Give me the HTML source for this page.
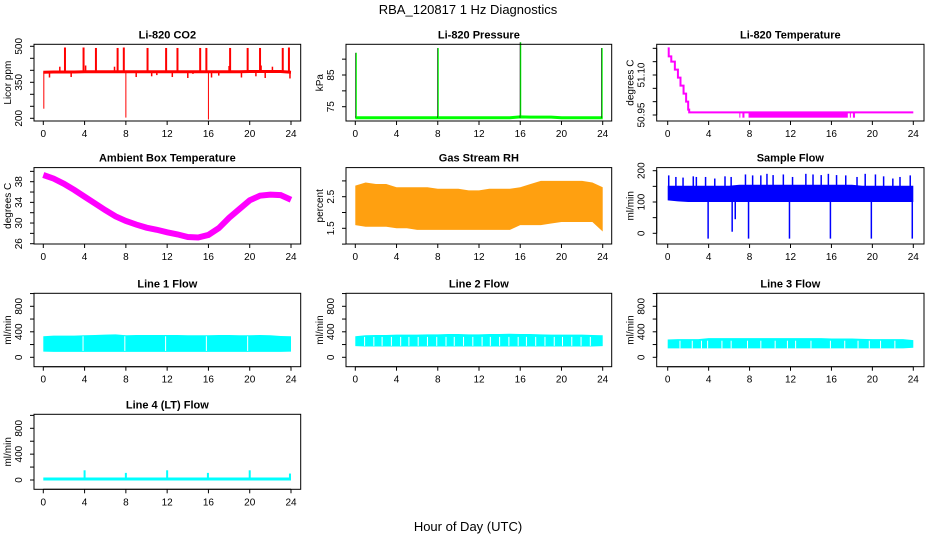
<!DOCTYPE html>
<html><head><meta charset="utf-8"><style>
body{margin:0;background:#fff}
svg text{font-family:"Liberation Sans",sans-serif;fill:#000}
</style></head><body>
<svg id="c" width="936" height="540" viewBox="0 0 936 540" xmlns="http://www.w3.org/2000/svg">
<text x="468" y="14" font-size="13" text-anchor="middle">RBA_120817  1 Hz Diagnostics</text>
<text x="468" y="531" font-size="13" text-anchor="middle">Hour of Day (UTC)</text>
</svg>
<script>
// ---- data ----
const hours=[0,1,2,3,4,5,6,7,8,9,10,11,12,13,14,15,16,17,18,19,20,21,22,23,24];
const xTicks=[0,4,8,12,16,20,24];
const co2Base=[392,393,393,393,394,394,394,394,394,394,394,394,394,394,394,394,394,394,394,394,395,395,395,395,392];
const co2SpikeT=[2.1,3.9,5.1,7.2,7.8,10.1,11.9,13.0,15.2,15.8,18.1,19.8,21.0,23.2,23.8];
const co2SpikeV=[495,495,493,493,495,493,493,493,493,493,493,493,493,493,495];
const co2SmallT=[0.6,1.6,2.7,4.1,6.9,9.0,10.5,11.0,12.5,14.0,14.5,16.3,17.0,18.0,19.2,20.6,21.1,21.5,22.2,23.9];
const co2SmallV=[370,415,372,420,415,372,375,380,372,368,385,370,378,418,370,375,420,368,415,366];
const co2DipT=[0.05,8.0,16.0];
const co2DipV=[240,203,195];
const presBase=[71.5,71.5,71.5,71.5,71.5,71.5,71.5,71.5,71.5,71.5,71.5,71.5,71.5,71.5,71.5,71.5,71.8,71.7,71.7,71.7,71.5,71.5,71.5,71.5,71.5];
const presSpikeT=[0.05,8.0,16.0,23.9];
const presSpikeV=[92,93.5,95.3,93.5];
const ltT=[0,0.1,0.35,0.7,1.0,1.25,1.55,1.8,2.0,2.1,24];
const ltV=[51.2,51.17,51.15,51.12,51.09,51.06,51.03,51.0,50.97,50.96,50.96];
const ltDipRange=[[7.0,7.1],[7.3,7.5],[7.9,17.6],[17.8,17.9],[18.1,18.3]];
const ambT=[39.3,38.6,37.6,36.4,35.1,33.8,32.5,31.3,30.4,29.7,29.1,28.7,28.2,27.8,27.3,27.2,27.7,29.0,31.0,32.7,34.4,35.3,35.5,35.4,34.5];
const rhHi=[2.85,2.95,2.9,2.9,2.8,2.8,2.8,2.8,2.75,2.75,2.75,2.7,2.7,2.75,2.75,2.75,2.8,2.9,3.0,3.0,3.0,3.0,3.0,2.95,2.8];
const rhLo=[1.6,1.55,1.55,1.55,1.5,1.5,1.45,1.45,1.45,1.45,1.45,1.45,1.45,1.45,1.45,1.45,1.6,1.6,1.6,1.65,1.7,1.7,1.7,1.7,1.4];
const sfHi=[152,152,152,152,152,152,152,155,155,155,155,155,155,155,155,155,155,155,155,152,152,152,152,152,152];
const sfLo=[105,102,100,100,100,100,100,100,100,100,100,100,100,100,100,100,100,100,100,100,100,100,100,100,100];
const sfSpikeT=[0.1,0.8,1.5,2.5,2.8,3.7,4.6,5.6,6.2,7.6,8.3,9.1,9.7,10.3,11.3,12.2,13.5,14.2,15.0,15.7,16.5,17.4,18.5,19.3,20.3,21.1,22.0,22.7,23.7];
const sfSpikeV=[185,180,178,182,180,180,175,182,180,188,185,185,190,186,188,180,190,188,186,190,186,185,180,190,188,182,175,180,185];
const sfDipT=[3.95,6.3,6.6,7.9,11.9,15.9,19.9,23.9];
const sfDipV=[-17,5,45,-17,-17,-17,-17,-17];
const l1Hi=[330,340,340,340,345,350,355,360,345,350,350,350,350,350,345,345,345,350,350,345,345,350,345,335,330];
const l1Lo=[90,85,85,85,85,85,85,85,85,85,85,85,85,85,85,85,85,85,85,85,85,85,85,85,90];
const l1Gap=[3.85,7.9,11.85,15.8,19.8];
const l2Hi=[330,345,350,350,355,355,355,360,360,365,365,360,360,365,365,370,365,365,360,355,355,355,355,350,345];
const l2Lo=[175,170,170,170,170,170,170,170,170,170,170,170,170,170,170,170,170,170,170,170,170,170,170,170,175];
const l2Gap=[0.9,1.8,2.6,3.5,4.4,5.2,6.1,7.0,7.9,8.8,9.6,10.5,11.4,12.3,13.1,14.0,14.9,15.8,16.6,17.5,18.4,19.3,20.1,21.0,21.9,22.8];
const l3Hi=[280,285,285,285,300,300,300,300,300,300,300,300,300,300,300,300,295,295,295,290,285,285,285,285,270];
const l3Lo=[140,140,140,140,140,140,140,140,140,140,140,140,140,140,140,140,140,140,140,140,140,140,140,140,150];
const l3Gap=[1.2,2.4,3.3,3.9,5.3,6.2,7.8,9.1,10.5,11.7,12.5,14.0,15.9,17.3,18.6,19.7,20.8,22.2];
const l4Base=[15,15,15,15,15,15,15,15,15,15,15,15,15,15,15,15,15,15,15,15,15,15,15,15,15];
const l4SpikeT=[4.0,8.0,12.0,15.95,20.0,23.9];
const l4SpikeV=[150,110,150,110,150,100];

// ---- helpers ----
const svg=document.getElementById('c');
const NS='http://www.w3.org/2000/svg';
function mk(tag,attrs,parent){const e=document.createElementNS(NS,tag);for(const k in attrs)e.setAttribute(k,attrs[k]);(parent||svg).appendChild(e);return e;}
const COLS=[{b0:34,b1:300.7,x0:43.3,x24:291},{b0:346,b1:611.7,x0:355.3,x24:602.7},{b0:656.7,b1:924,x0:667.7,x24:913.3}];
const ROWS=[{t:44.3,b:121},{t:167.6,b:244},{t:293.3,b:366.7},{t:414.3,b:489.3}];
function panel(name,title,col,row,ylab,v1,p1,v2,p2,yticks,ylabels){
  const C=COLS[col],R=ROWS[row];
  const g=mk('g',{});
  
  
  const sx=h=>C.x0+h/24*(C.x24-C.x0);
  const sy=v=>p1+(v-v1)*(p2-p1)/(v2-v1);
  const data=mk('g',{},g);
  
  
  const box=mk('rect',{x:C.b0,y:R.t,width:C.b1-C.b0,height:R.b-R.t,fill:'none',stroke:'#000','stroke-width':1},g);
  
  
  const t=mk('text',{x:(C.b0+C.b1)/2,y:R.t-6,'font-size':11,'font-weight':'bold','text-anchor':'middle'},g);
  t.textContent=title;
  
  
  const xa=mk('g',{},g);
  
  
  mk('line',{x1:sx(0),x2:sx(24),y1:R.b,y2:R.b,stroke:'#000'},xa);
  xTicks.forEach(h=>{mk('line',{x1:sx(h),x2:sx(h),y1:R.b,y2:R.b+4,stroke:'#000'},xa);
    const l=mk('text',{x:sx(h),y:R.b+16,'font-size':10,'text-anchor':'middle'},xa);l.textContent=h;
    
    });
  const ya=mk('g',{},g);
  
  
  mk('line',{x1:C.b0,x2:C.b0,y1:sy(yticks[0]),y2:sy(yticks[yticks.length-1]),stroke:'#000'},ya);
  yticks.forEach(v=>mk('line',{x1:C.b0-4,x2:C.b0,y1:sy(v),y2:sy(v),stroke:'#000'},ya));
  ylabels.forEach(v=>{const x=C.b0-12,y=sy(v);const l=mk('text',{x:x,y:y,'font-size':10,'text-anchor':'middle',transform:`rotate(-90 ${x} ${y})`},ya);l.textContent=v;
    
    });
  const yx=C.b0-23,yy=(R.t+R.b)/2;
  const yl=mk('text',{x:yx,y:yy,'font-size':10,'text-anchor':'middle',transform:`rotate(-90 ${yx} ${yy})`},g);yl.textContent=ylab;
  
  
  return {sx,sy,g:data};
}
function band(P,hi,lo,fill){
  let pts=hours.map((h,i)=>P.sx(h)+','+P.sy(hi[i]));
  for(let i=hours.length-1;i>=0;i--)pts.push(P.sx(hours[i])+','+P.sy(lo[i]));
  const e=mk('polygon',{points:pts.join(' '),fill:fill},P.g);
  
  
}
function baseLine(P,vals,col,w){
  const e=mk('polyline',{points:hours.map((h,i)=>P.sx(h)+','+P.sy(vals[i])).join(' '),fill:'none',stroke:col,'stroke-width':w},P.g);
  
  
}
function spikes(P,ts,vs,base,col,w){
  ts.forEach((t,i)=>{const e=mk('line',{x1:P.sx(t),x2:P.sx(t),y1:P.sy(base),y2:P.sy(vs[i]),stroke:col,'stroke-width':w},P.g);
    
    });
}
function gaps(P,ts,hi,lo){
  ts.forEach(t=>{const e=mk('line',{x1:P.sx(t),x2:P.sx(t),y1:P.sy(hi),y2:P.sy(lo),stroke:'#fff','stroke-width':1},P.g);
    
    });
}

// CO2
let P=panel('co2','Li-820 CO2',0,0,'Licor ppm',400,70.3,350,82.3,[200,250,300,350,400,450,500],[200,350,500]);
baseLine(P,co2Base,'#FF0000',3);
spikes(P,co2SpikeT,co2SpikeV,394,'#FF0000',2);
spikes(P,co2SmallT,co2SmallV,394,'#FF0000',1.5);
spikes(P,co2DipT,co2DipV,394,'#FF0000',1);
// Pressure
P=panel('pressure','Li-820 Pressure',1,0,'kPa',75,106.7,85,75,[75,80,85,90],[75,85]);
baseLine(P,presBase,'#00FF00',3);
spikes(P,presSpikeT,presSpikeV,71.5,'#000',1);
spikes(P,presSpikeT.map(t=>t+0.05),presSpikeV,71.5,'#00FF00',1);
// Li-820 temperature
P=panel('li820-temp','Li-820 Temperature',2,0,'degrees C',50.95,115,51.10,75,[50.95,51,51.05,51.1,51.15,51.2],['50.95','51.10']);
{let pts=[];ltT.forEach((t,i)=>{if(i>0)pts.push(P.sx(t)+','+P.sy(ltV[i-1]));pts.push(P.sx(t)+','+P.sy(ltV[i]));});
 const e=mk('polyline',{points:pts.join(' '),fill:'none',stroke:'#FF00FF','stroke-width':2},P.g);
 
 }
ltDipRange.forEach(r=>{const e=mk('rect',{x:P.sx(r[0]),y:P.sy(50.96),width:P.sx(r[1])-P.sx(r[0]),height:P.sy(50.94)-P.sy(50.96),fill:'#FF00FF'},P.g);
 
 });
// Ambient
P=panel('ambient-temp','Ambient Box Temperature',0,1,'degrees C',26,243.7,38,181.7,[26,28,30,32,34,36,38,40],[26,30,34,38]);
baseLine(P,ambT,'#FF00FF',6);
// RH
P=panel('gas-rh','Gas Stream RH',1,1,'percent',1.5,228.3,2.5,196.7,[1.0,1.5,2.0,2.5,3.0],['1.5','2.5']);
band(P,rhHi,rhLo,'#FFA010');
// Sample flow
P=panel('sample-flow','Sample Flow',2,1,'ml/min',0,233.3,200,170.7,[0,50,100,150,200],[0,100,200]);
band(P,sfHi,sfLo,'#0000FF');
spikes(P,sfSpikeT,sfSpikeV,140,'#0000FF',1.5);
spikes(P,sfDipT,sfDipV,110,'#0000FF',1.5);
// Line flows
P=panel('line1-flow','Line 1 Flow',0,2,'ml/min',0,357.3,800,306.3,[0,200,400,600,800,1000],[0,400,800]);
band(P,l1Hi,l1Lo,'#00FFFF');gaps(P,l1Gap,330,100);
P=panel('line2-flow','Line 2 Flow',1,2,'ml/min',0,357.3,800,306.3,[0,200,400,600,800,1000],[0,400,800]);
band(P,l2Hi,l2Lo,'#00FFFF');gaps(P,l2Gap,320,180);
P=panel('line3-flow','Line 3 Flow',2,2,'ml/min',0,357.3,800,306.3,[0,200,400,600,800,1000],[0,400,800]);
band(P,l3Hi,l3Lo,'#00FFFF');gaps(P,l3Gap,260,140);
P=panel('line4-flow','Line 4 (LT) Flow',0,3,'ml/min',0,480,800,428.3,[0,200,400,600,800,1000],[0,400,800]);
baseLine(P,l4Base,'#00FFFF',3);
spikes(P,l4SpikeT,l4SpikeV,15,'#00FFFF',2);
</script>
</body></html>
